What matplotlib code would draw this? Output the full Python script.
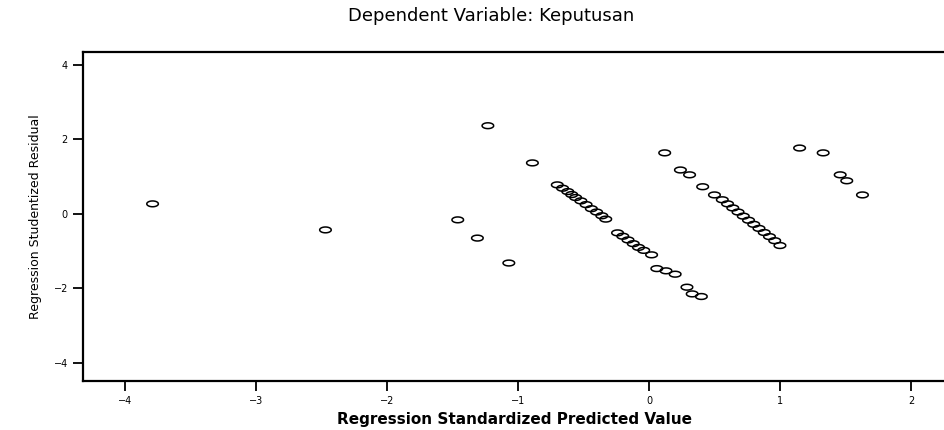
import numpy as np
import matplotlib
matplotlib.use("Agg")
import matplotlib.pyplot as plt

# values (standardized predicted, studentized residual)
pred_lone = [-3.79, -2.47, -1.46, -1.31, -1.07, -1.23, -0.89]
resid_lone = [0.27, -0.43, -0.16, -0.65, -1.32, 2.37, 1.37]

pred_band1 = [-0.70, -0.66, -0.62, -0.59, -0.56, -0.52, -0.48, -0.44, -0.40,
              -0.36, -0.33, -0.24, -0.20, -0.16, -0.12, -0.08, -0.04, 0.02,
              0.06, 0.13, 0.20, 0.29, 0.33, 0.40]
resid_band1 = [0.78, 0.69, 0.60, 0.52, 0.44, 0.35, 0.25, 0.14, 0.05,
               -0.05, -0.14, -0.51, -0.60, -0.70, -0.80, -0.90, -0.98, -1.10,
               -1.47, -1.53, -1.62, -1.97, -2.15, -2.22]

pred_band2 = [0.12, 0.24, 0.31, 0.41, 0.50, 0.56, 0.60, 0.64, 0.68, 0.72,
              0.76, 0.80, 0.84, 0.88, 0.92, 0.96, 1.00]
resid_band2 = [1.64, 1.18, 1.05, 0.73, 0.51, 0.38, 0.27, 0.16, 0.05, -0.06,
               -0.17, -0.28, -0.39, -0.50, -0.61, -0.72, -0.85]

pred_right = [1.15, 1.33, 1.46, 1.51, 1.63]
resid_right = [1.77, 1.64, 1.05, 0.89, 0.51]

xticks = [-4, -3, -2, -1, 0, 1, 2]
yticks = [-4, -2, 0, 2, 4]

x = pred_lone + pred_band1 + pred_band2 + pred_right
y = resid_lone + resid_band1 + resid_band2 + resid_right

# flat open ellipse marker like the old spss output
t = np.linspace(0, 2 * np.pi, 40)
ellipse = np.column_stack([np.cos(t), 0.5 * np.sin(t)])

fig = plt.figure(figsize=(9.45, 4.30), dpi=100)
ax = fig.add_axes([0.088, 0.114, 0.912, 0.765])

ax.scatter(x, y, marker=ellipse, s=70, facecolors="none",
           edgecolors="black", linewidths=1.1)

ax.set_xlim(-4.32, 2.26)
ax.set_ylim(-4.49, 4.35)
ax.set_xticks(xticks)
ax.set_yticks(yticks)
ax.tick_params(direction="out", length=7, width=1.3, labelsize=7, pad=4)

for s in ["left", "bottom", "top"]:
    ax.spines[s].set_linewidth(1.6)
ax.spines["right"].set_visible(False)

ax.set_xlabel("Regression Standardized Predicted Value", fontsize=11,
              fontweight="bold", labelpad=4)
ax.set_ylabel("Regression Studentized Residual", fontsize=9, labelpad=8)

fig.text(0.52, 0.962, "Dependent Variable: Keputusan", ha="center",
         va="center", fontsize=13)

fig.savefig("out.png", dpi=100)
